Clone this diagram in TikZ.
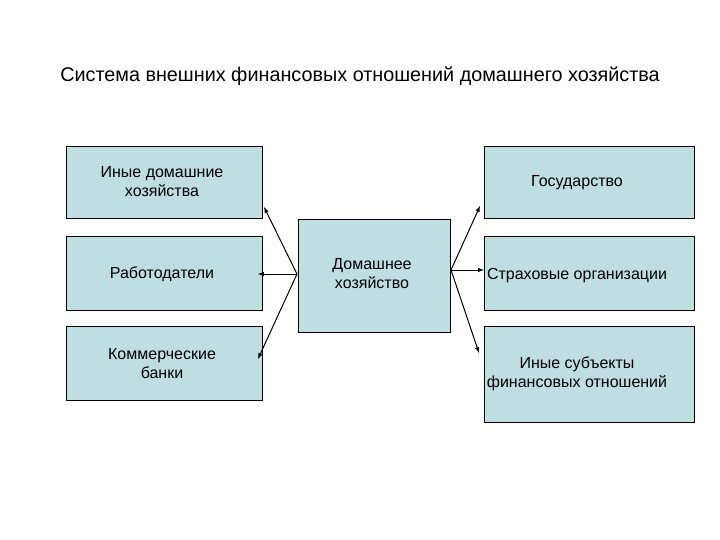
\documentclass[tikz,border=0pt]{standalone}
\usepackage{fontspec}
\setmainfont{Liberation Sans}
\definecolor{boxc}{RGB}{191,222,226}
\begin{document}
\begin{tikzpicture}[x=1pt,y=-1pt,
 bx/.style={draw=black,fill=boxc,line width=0.8pt},
 tx/.style={font=\fontsize{16}{19}\selectfont,align=center,inner sep=0},
 ar/.style={-latex,line width=1pt}]
\useasboundingbox (0,0) rectangle (720,540);
\node[font=\fontsize{19.8}{23}\selectfont,inner sep=0] (title) at (360,76) {Система внешних финансовых отношений домашнего хозяйства};
\draw[bx] (66,146) rectangle (262,218);
\draw[bx] (66,236) rectangle (262,310);
\draw[bx] (66,326) rectangle (262,400);
\draw[bx] (298,219) rectangle (450,332);
\draw[bx] (484,146) rectangle (694,218);
\draw[bx] (484,236) rectangle (694,310);
\draw[bx] (484,326) rectangle (694,422);
\node[tx] (l1) at (162,182) {Иные домашние\\хозяйства};
\node[tx] (l2) at (162,274) {Работодатели};
\node[tx] (l3) at (162,364) {Коммерческие\\банки};
\node[tx] (c) at (372,274) {Домашнее\\хозяйство};
\node[tx] (r1) at (577,183) {Государство};
\node[tx] (r2) at (577,276) {Страховые организации};
\node[tx] (r3) at (577,374) {Иные субъекты\\финансовых отношений};
\coordinate (cl) at (297,274);
\coordinate (cr) at (451,270);
\coordinate (e1) at (264,207);
\coordinate (e2) at (258,274);
\coordinate (e3) at (258,359);
\coordinate (f1) at (480,206);
\coordinate (f2) at (484,270);
\coordinate (f3) at (479,353);
\draw[ar] (cl) -- (e1);
\draw[ar] (cl) -- (e2);
\draw[ar] (cl) -- (e3);
\draw[ar] (cr) -- (f1);
\draw[ar] (cr) -- (f2);
\draw[ar] (cr) -- (f3);
\end{tikzpicture}
\end{document}
